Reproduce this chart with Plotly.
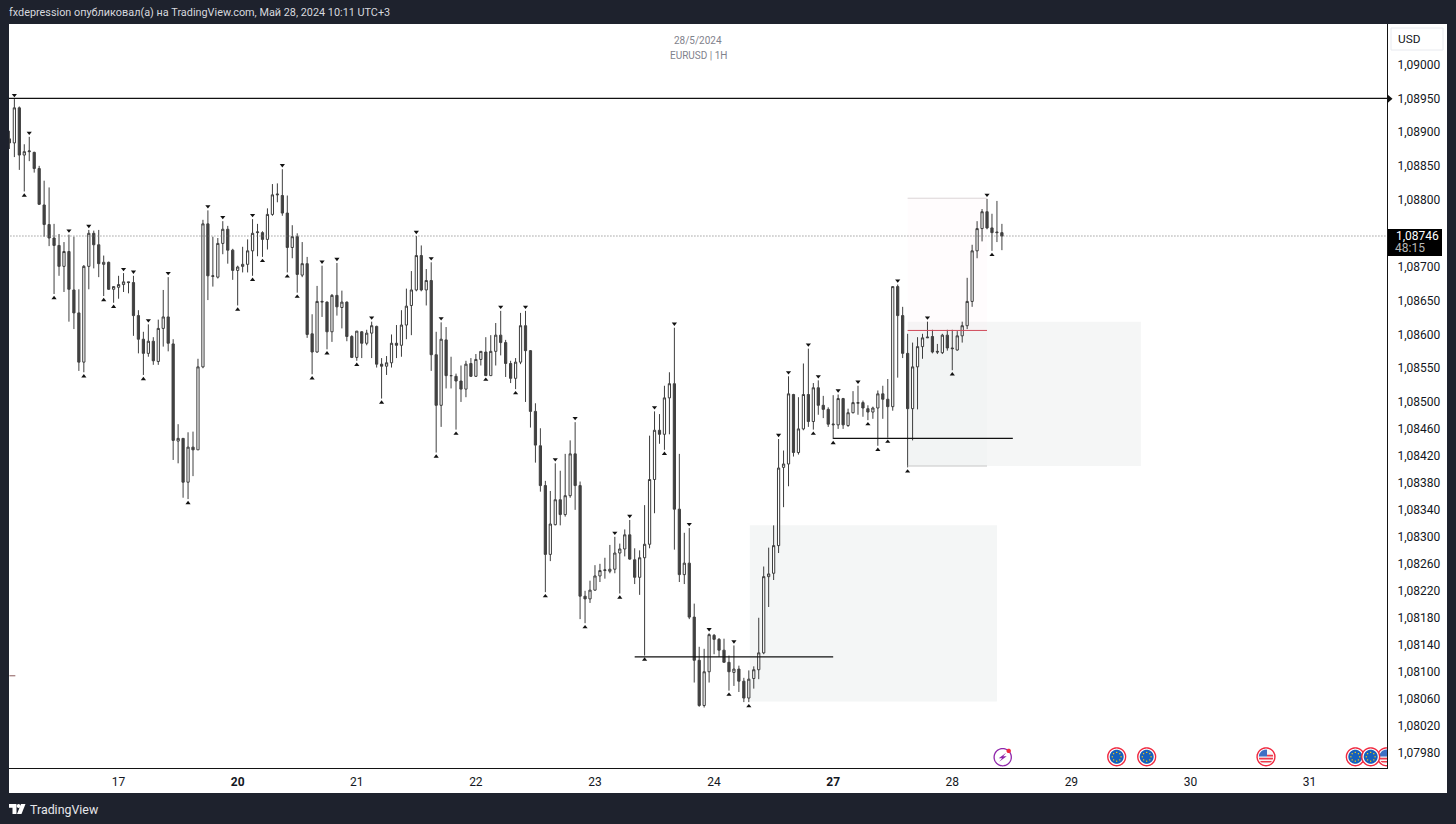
import numpy as np
import plotly.graph_objects as go

# price values in 1e-5 units (one list per OHLC field, one item per hourly bar)
opens = [108890,108884,108936,108866,108871,108870,108846,108792,108763,108743,108732,108701,108723,108666,108632,108559,108701,108750,108733,108704,
 108707,108667,108670,108674,108678,108677,108628,108593,108572,108590,108560,108609,108626,108586,108442,108446,108381,108433,108429,108552,
 108764,108686,108685,108735,108756,108725,108695,108701,108704,108724,108751,108751,108741,108778,108807,108806,108780,108729,108745,108688,
 108705,108601,108574,108648,108648,108604,108658,108640,108648,108597,108566,108604,108587,108602,108612,108556,108553,108558,108587,108584,
 108614,108643,108666,108717,108666,108680,108570,108495,108592,108539,108538,108531,108519,108557,108538,108563,108574,108539,108575,108599,
 108588,108557,108535,108559,108613,108576,108486,108435,108376,108274,108318,108355,108333,108361,108423,108376,108212,108208,108221,108242,
 108250,108249,108252,108276,108282,108303,108266,108240,108269,108289,108385,108458,108452,108506,108527,108341,108244,108261,108181,108117,
 108050,108100,108154,108148,108132,108114,108099,108104,108086,108061,108090,108103,108128,108241,108246,108287,108403,108408,108511,108425,
 108460,108511,108471,108521,108495,108489,108466,108466,108505,108465,108484,108498,108499,108490,108485,108491,108512,108504,108493,108671,
 108628,108572,108490,108552,108582,108595,108597,108575,108573,108599,108580,108577,108598,108613,108649,108724,108757,108782,108758,108752,108751]
highs = [108902,108949,108938,108882,108893,108871,108850,108828,108818,108764,108749,108737,108748,108745,108667,108703,108755,108754,108755,108717,
 108708,108671,108687,108691,108678,108687,108636,108604,108615,108596,108622,108666,108685,108593,108467,108446,108455,108456,108564,108770,
 108784,108745,108743,108768,108761,108727,108702,108730,108741,108771,108764,108753,108787,108823,108824,108845,108806,108762,108750,108737,
 108715,108630,108672,108702,108649,108660,108706,108665,108649,108599,108605,108605,108607,108619,108613,108565,108568,108600,108614,108636,
 108668,108694,108746,108732,108697,108707,108604,108618,108611,108567,108542,108554,108561,108565,108571,108575,108596,108599,108617,108635,
 108592,108561,108565,108632,108635,108577,108498,108461,108383,108368,108409,108398,108423,108443,108470,108382,108220,108235,108258,108260,
 108269,108288,108300,108290,108311,108325,108283,108280,108347,108450,108486,108482,108524,108544,108610,108423,108306,108313,108201,108137,
 108134,108157,108156,108150,108149,108124,108139,108109,108091,108102,108108,108180,108256,108284,108317,108445,108428,108538,108512,108507,
 108557,108579,108528,108532,108509,108492,108510,108511,108506,108490,108516,108524,108502,108495,108493,108517,108524,108534,108671,108674,
 108641,108601,108588,108596,108601,108619,108607,108586,108601,108607,108607,108605,108619,108684,108733,108768,108786,108801,108779,108798,108764]
lows = [108875,108863,108844,108812,108857,108840,108792,108745,108731,108660,108687,108663,108619,108608,108546,108544,108667,108698,108685,108657,
 108666,108647,108653,108663,108661,108598,108572,108540,108567,108555,108555,108582,108575,108414,108409,108358,108356,108390,108429,108550,
 108651,108671,108683,108719,108705,108681,108643,108692,108692,108687,108716,108715,108726,108776,108796,108776,108692,108713,108662,108685,
 108595,108541,108573,108626,108578,108589,108628,108609,108590,108565,108561,108565,108584,108565,108551,108505,108540,108551,108565,108567,
 108593,108599,108664,108664,108643,108546,108425,108463,108520,108520,108459,108500,108507,108537,108537,108554,108539,108539,108554,108569,
 108537,108528,108519,108556,108500,108462,108410,108367,108218,108264,108317,108317,108330,108358,108340,108178,108172,108202,108220,108233,
 108238,108246,108246,108216,108271,108266,108230,108214,108124,108283,108335,108438,108429,108452,108281,108233,108230,108178,108084,108048,
 108047,108084,108126,108122,108114,108072,108079,108070,108055,108055,108075,108089,108126,108196,108236,108276,108344,108375,108419,108422,
 108458,108463,108459,108481,108476,108463,108445,108460,108460,108463,108483,108481,108478,108473,108475,108435,108475,108447,108487,108536,
 108565,108403,108443,108489,108564,108595,108572,108571,108571,108576,108547,108576,108588,108608,108641,108713,108738,108756,108724,108737,108725]
closes = [108884,108936,108866,108871,108872,108846,108793,108763,108743,108732,108701,108723,108667,108632,108559,108701,108750,108733,108705,108707,
 108667,108671,108674,108678,108677,108628,108593,108572,108590,108561,108609,108626,108587,108443,108446,108381,108433,108429,108552,108764,
 108687,108687,108735,108756,108725,108695,108700,108704,108724,108750,108752,108741,108778,108807,108808,108780,108729,108745,108689,108705,
 108600,108574,108649,108649,108604,108658,108641,108648,108597,108566,108605,108587,108602,108613,108556,108553,108558,108587,108584,108614,
 108642,108666,108717,108666,108680,108570,108495,108593,108539,108539,108531,108519,108556,108538,108563,108575,108539,108575,108599,108588,
 108557,108535,108559,108613,108576,108486,108436,108376,108274,108319,108355,108333,108361,108423,108376,108212,108208,108221,108242,108250,
 108251,108252,108276,108282,108303,108267,108240,108269,108289,108385,108458,108452,108506,108527,108341,108244,108261,108181,108117,108050,
 108100,108155,108148,108132,108114,108100,108104,108086,108061,108089,108103,108128,108241,108245,108287,108402,108408,108512,108425,108460,
 108511,108471,108521,108495,108489,108467,108467,108505,108466,108484,108499,108499,108491,108485,108491,108512,108504,108493,108671,108628,
 108572,108490,108552,108582,108595,108596,108574,108574,108599,108580,108579,108598,108613,108649,108724,108757,108782,108758,108751,108751,108746]

pivot_high_bars = [1,4,12,16,23,25,28,32,40,43,49,55,63,66,73,82,85,87,99,104,110,114,122,125,130,134,137,141,146,155,157,161,163,167,171,179,185,197]
pivot_low_bars = [3,9,15,19,21,27,36,46,49,51,56,58,61,64,70,75,86,90,96,102,108,116,123,128,132,145,149,162,166,173,175,177,181,190,198]

price_ticks = [1.09,1.0895,1.089,1.0885,1.088,1.087,1.0865,1.086,1.0855,1.085,1.0846,1.0842,1.0838,1.0834,1.083,1.0826,1.0822,1.0818,1.0814,1.081,1.0806,1.0802,1.0798]
day_bars = [22,46,70,94,118,142,166,190,214,238,262]
day_labels = ["17","<b>20</b>","21","22","23","24","<b>27</b>","28","29","30","31"]

level_top = 1.0895
last_price = 1.08746
level_a = 1.08122
level_b = 1.08446

FONT = "Roboto, Inter, sans-serif"
DARK = "#1e222d"
PL, PR, PT, PB = 9, 1387, 24, 768

def X(px): return (px - PL) / (PR - PL)
def Y(py): return (PB - py) / (PB - PT)

def poly(pts):
    return "M" + " L".join(f"{X(x):.5f},{Y(y):.5f}" for x, y in pts) + " Z"

def circle(cx, cy, r, xmax=None, xmin=None, ymin=None, ymax=None, color="#000"):
    t = np.linspace(0, 2*np.pi, 49)[:-1]
    xs = cx + r*np.cos(t); ys = cy + r*np.sin(t)
    xs = np.clip(xs, xmin if xmin is not None else -1e9, xmax if xmax is not None else 1e9)
    ys = np.clip(ys, ymin if ymin is not None else -1e9, ymax if ymax is not None else 1e9)
    return dict(type="path", xref="paper", yref="paper", path=poly(list(zip(xs, ys))),
                fillcolor=color, line=dict(width=0), layer="above")

def eu_icon(cx, cy, clip=PR):
    out = [circle(cx, cy, 9.6, xmax=clip, color="#f0293f"),
           circle(cx, cy, 8.2, xmax=clip, color="#ffffff"),
           circle(cx, cy, 7.0, xmax=clip, color="#1560bd")]
    for a in np.arange(0, 2*np.pi, 2*np.pi/8):
        out.append(circle(cx + 4.4*np.cos(a), cy + 4.4*np.sin(a), 0.7, xmax=clip, color="#f6c90e"))
    return out

def us_icon(cx, cy, clip=PR):
    out = [circle(cx, cy, 9.6, xmax=clip, color="#f0293f"),
           circle(cx, cy, 8.2, xmax=clip, color="#ffffff"),
           circle(cx, cy, 7.2, xmax=clip, color="#f6f6f6"),
           circle(cx, cy, 7.2, xmax=clip, ymin=cy+1.0, ymax=cy+2.6, color="#ef3b4c"),
           circle(cx, cy, 7.2, xmax=clip, ymin=cy+4.2, ymax=cy+5.8, color="#ef3b4c"),
           circle(cx, cy, 7.2, xmax=clip, xmin=cx+1, ymin=cy-2.0, ymax=cy-0.4, color="#ef3b4c"),
           circle(cx, cy, 7.2, xmax=min(clip, cx+1), ymax=cy-0.2, color="#3d6fc4")]
    return out

def flash_icon(cx, cy):
    t = np.linspace(0, 2*np.pi, 49)
    ring = dict(type="path", xref="paper", yref="paper",
                path=poly(list(zip(cx+8.6*np.cos(t), cy+8.6*np.sin(t)))),
                line=dict(color="#8e24aa", width=1.3), fillcolor="#ffffff", layer="above")
    bolt = dict(type="path", xref="paper", yref="paper",
                path=poly([(cx+3.5,cy-4.5),(cx-4,cy+1),(cx-0.5,cy+1),(cx-3.5,cy+4.5),(cx+4,cy-1),(cx+0.5,cy-1)]),
                fillcolor="#8e24aa", line=dict(width=0), layer="above")
    return [ring, bolt, circle(cx+6, cy-6.3, 2.2, color="#f0293f")]

def scale(v): return [p / 1e5 for p in v]

fig = go.Figure()
fig.add_trace(go.Candlestick(
    x=list(range(len(opens))), open=scale(opens), high=scale(highs), low=scale(lows), close=scale(closes),
    increasing=dict(fillcolor="#ffffff", line=dict(color="#3c3c3c", width=1)),
    decreasing=dict(fillcolor="#404040", line=dict(color="#404040", width=1)),
    showlegend=False, hoverinfo="skip"))
fig.add_trace(go.Scatter(x=pivot_high_bars, y=[highs[i]/1e5 + 0.00006 for i in pivot_high_bars], mode="markers",
    marker=dict(symbol="triangle-down", size=4.5, color="#111111"), showlegend=False, hoverinfo="skip"))
fig.add_trace(go.Scatter(x=pivot_low_bars, y=[lows[i]/1e5 - 0.00006 for i in pivot_low_bars], mode="markers",
    marker=dict(symbol="triangle-up", size=4.5, color="#111111"), showlegend=False, hoverinfo="skip"))

def rect(x0, x1, y0, y1, color):
    return dict(type="rect", xref="x", yref="y", x0=x0, x1=x1, y0=y0, y1=y1, fillcolor=color, line=dict(width=0), layer="below")
def hline(x0, x1, y, color, width=1, dash="solid", layer="above"):
    return dict(type="line", xref="x", yref="y", x0=x0, x1=x1, y0=y, y1=y, line=dict(color=color, width=width, dash=dash), layer=layer)

XMAX = 277.6
panel = lambda x0, x1, y0, y1, c: dict(type="rect", xref="paper", yref="paper", x0=X(x0), x1=X(x1), y0=Y(y1), y1=Y(y0),
                                       fillcolor=c, line=dict(width=0), layer="below")
shapes = [
    panel(1387, 1447, 24, 793, "#ffffff"),
    panel(9, 1387, 768, 793, "#ffffff"),
    rect(149.2, 199, 1.08056, 1.08317, "#f4f6f6"),
    rect(181, 228, 1.08405, 1.08619, "#f5f6f6"),
    rect(181, 197, 1.08606, 1.08802, "rgba(255,238,244,0.16)"),
    rect(181, 197, 1.08405, 1.08606, "#f2f4f4"),
    hline(181, 197, 1.08802, "#dcd4d6"),
    hline(181, 197, 1.08606, "#d04a5a"),
    hline(181, 197, 1.08405, "#c8c8c8"),
    hline(-1, XMAX, last_price, "#707070", 1, "1px,2px"),
    hline(-1, XMAX, level_top, "#111111", 1.3),
    hline(126, 166, level_a, "#111111", 1.3),
    hline(166, 202.2, level_b, "#111111", 1.3),
    hline(0, 1.2, 1.08094, "#8a5a5a", 1),
    dict(type="path", xref="paper", yref="paper", path=poly([(1387,94),(1392.5,98.8),(1387,103.6)]),
         fillcolor="#111111", line=dict(width=0), layer="above"),
    # USD button
    dict(type="rect", xref="paper", yref="paper", x0=X(1391), x1=X(1443), y0=Y(50), y1=Y(28),
         fillcolor="#ffffff", line=dict(color="#e8eaef", width=1), layer="below"),
    # last price label
    panel(1387, 1442, 229, 256, "#000000"),
    # logo
    dict(type="path", xref="paper", yref="paper", path=poly([(9,804),(16.5,804),(16.5,814),(12.5,814),(12.5,807.8),(9,807.8)]),
         fillcolor="#ffffff", line=dict(width=0), layer="above"),
    circle(18.6, 806, 1.9, color="#ffffff"),
    dict(type="path", xref="paper", yref="paper", path=poly([(21,804),(25.5,804),(21.5,814),(17,814)]),
         fillcolor="#ffffff", line=dict(width=0), layer="above"),
]
shapes += flash_icon(1002.7, 757.2)
shapes += eu_icon(1116.7, 756.8) + eu_icon(1146.7, 756.8) + us_icon(1266, 756.8)
shapes += us_icon(1386.5, 756.8) + eu_icon(1355.3, 756.8) + eu_icon(1370.7, 756.8)

def note(px, py, text, size, color, anchor="left", family=FONT):
    return dict(xref="paper", yref="paper", x=X(px), y=Y(py), text=text, showarrow=False, xanchor=anchor, yanchor="middle",
                font=dict(family=family, size=size, color=color), borderpad=0, borderwidth=0)

annotations = [
    note(9, 13, "fxdepression опубликовал(а) на TradingView.com, Май 28, 2024 10:11 UTC+3", 10.85, "#d6d8de"),
    note(698, 40.5, "28/5/2024", 10, "#7f828c", "center"),
    note(698, 55.5, "EURUSD | 1H", 10, "#7f828c", "center"),
    note(1398, 39, "USD", 11.8, "#131722"),
    note(1396, 235.5, "1,08746", 12, "#ffffff"),
    note(1395, 248, "48:15", 12, "#b8b8b8"),
    note(30, 809, "TradingView", 12.4, "#e6e7ea"),
]

fig.update_layout(
    width=1456, height=824, autosize=False,
    margin=dict(l=PL, r=1456-PR, t=PT, b=824-PB, pad=0),
    paper_bgcolor=DARK, plot_bgcolor="#ffffff",
    separators=", ", showlegend=False, hovermode=False, dragmode=False,
    boxgap=0.36,
    font=dict(family=FONT, size=12, color="#131722"),
    shapes=shapes, annotations=annotations,
    xaxis=dict(range=[-0.08, XMAX], rangeslider=dict(visible=False), showgrid=False, zeroline=False,
               tickmode="array", tickvals=day_bars, ticktext=day_labels, ticks="outside", ticklen=3, tickcolor="rgba(0,0,0,0)",
               showline=True, linecolor="#131313", linewidth=1, tickfont=dict(family=FONT, size=12, color="#131722")),
    yaxis=dict(side="right", range=[1.079573, 1.090603], showgrid=False, zeroline=False,
               tickmode="array", tickvals=price_ticks, tickformat=".5f", ticks="outside", ticklen=7, tickcolor="rgba(0,0,0,0)",
               showline=True, linecolor="#131313", linewidth=1, tickfont=dict(family=FONT, size=12, color="#131722")),
)
fig.write_html("out.html", config={"displayModeBar": False},
               post_script="document.body.style.margin='0';document.body.style.background='#1e222d';document.body.style.overflow='hidden';")
